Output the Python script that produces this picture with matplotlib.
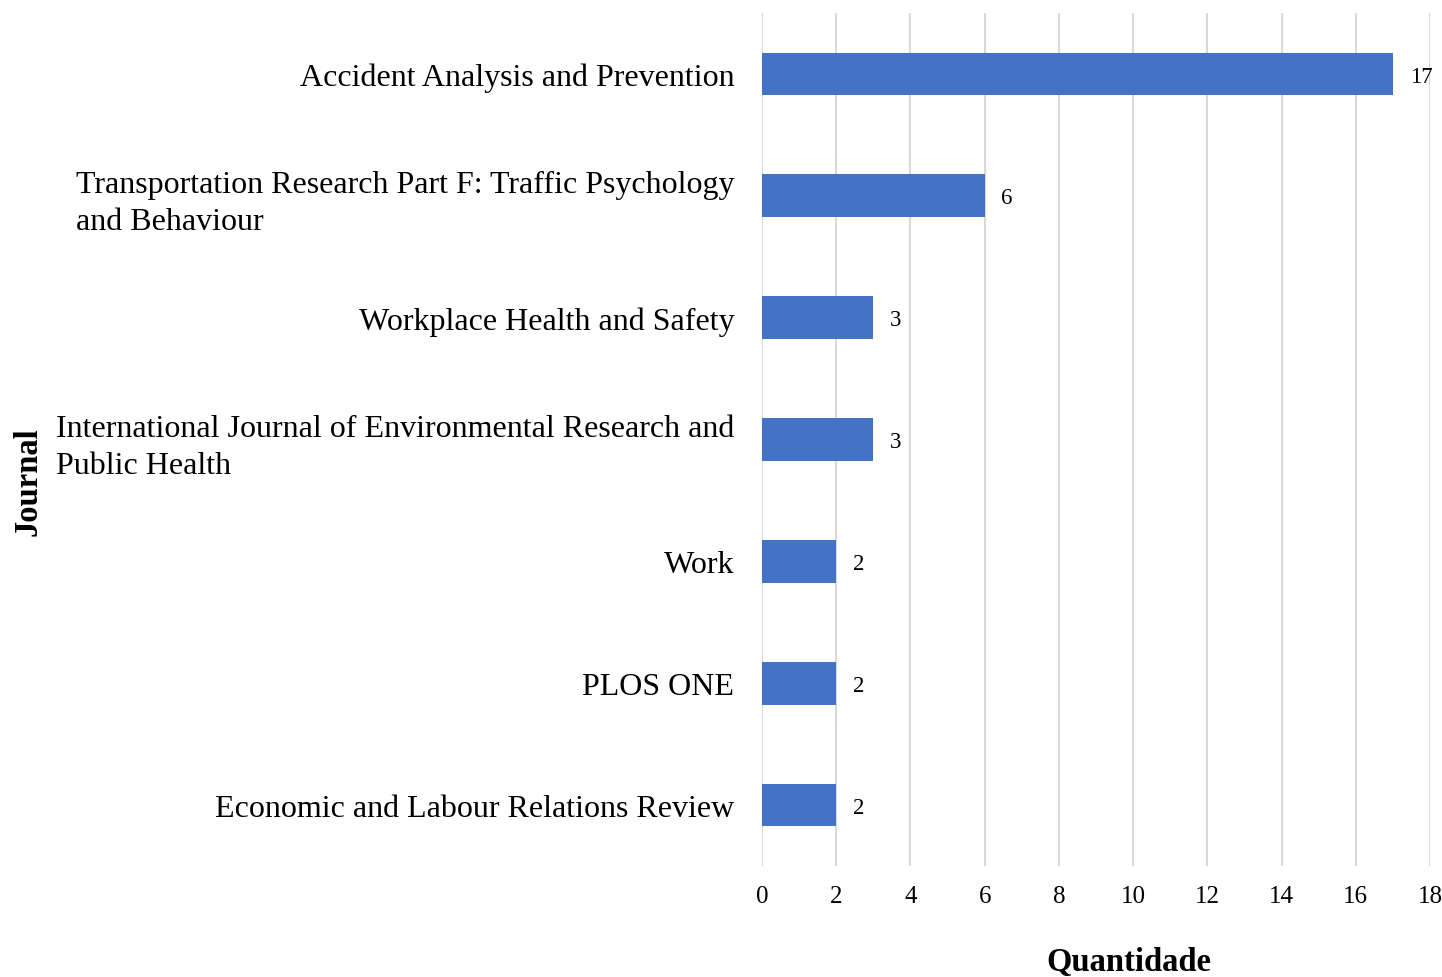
import matplotlib
matplotlib.use("Agg")
from matplotlib import pyplot as plt

journals = [
    "Accident Analysis and Prevention",
    "Transportation Research Part F: Traffic Psychology\nand Behaviour",
    "Workplace Health and Safety",
    "International Journal of Environmental Research and\nPublic Health",
    "Work",
    "PLOS ONE",
    "Economic and Labour Relations Review",
]
counts = [17, 6, 3, 3, 2, 2, 2]
x_ticks = list(range(0, 19, 2))

plt.rcParams["font.family"] = ["Liberation Serif", "DejaVu Serif"]

fig = plt.figure(figsize=(14.42, 9.78), dpi=100)
ax = fig.add_axes([762 / 1442, 1 - 867 / 978, (1430 - 762) / 1442, (867 - 14) / 978])

pos = list(range(len(journals)))
bars = ax.barh(pos, counts, height=0.35, color="#4472C4", zorder=3)
for b, v in zip(bars, counts):
    ax.annotate(str(v), (b.get_width(), b.get_y() + b.get_height() / 2),
                xytext=(12, -1.5), textcoords="offset points",
                va="center", ha="left", fontsize=16.5)

ax.set_ylim(len(journals) - 0.5, -0.5)
ax.set_xlim(0, 18)
ax.set_xticks(x_ticks)
ax.set_xticklabels([str(t) for t in x_ticks], fontsize=18)
ax.set_yticks(pos)
ax.set_yticklabels(journals, fontsize=23, multialignment="left", linespacing=1.35)
ax.tick_params(axis="y", length=0, pad=20)
ax.tick_params(axis="x", length=0, pad=14)
ax.grid(axis="x", color="#D9D9D9", linewidth=1.5, zorder=0)
for s in ax.spines.values():
    s.set_visible(False)

# two-line labels sit a bit higher in the original
for lbl in ax.get_yticklabels():
    if "\n" in lbl.get_text():
        lbl.set_va("center_baseline")

fig.text(1129 / 1442, 1 - 963 / 978, "Quantidade", ha="center", va="center",
         fontsize=23.5, fontweight="bold")
fig.text(28 / 1442, 1 - 482 / 978, "Journal", ha="center", va="center",
         rotation=90, fontsize=23.5, fontweight="bold")

fig.savefig("out.png", dpi=100)
